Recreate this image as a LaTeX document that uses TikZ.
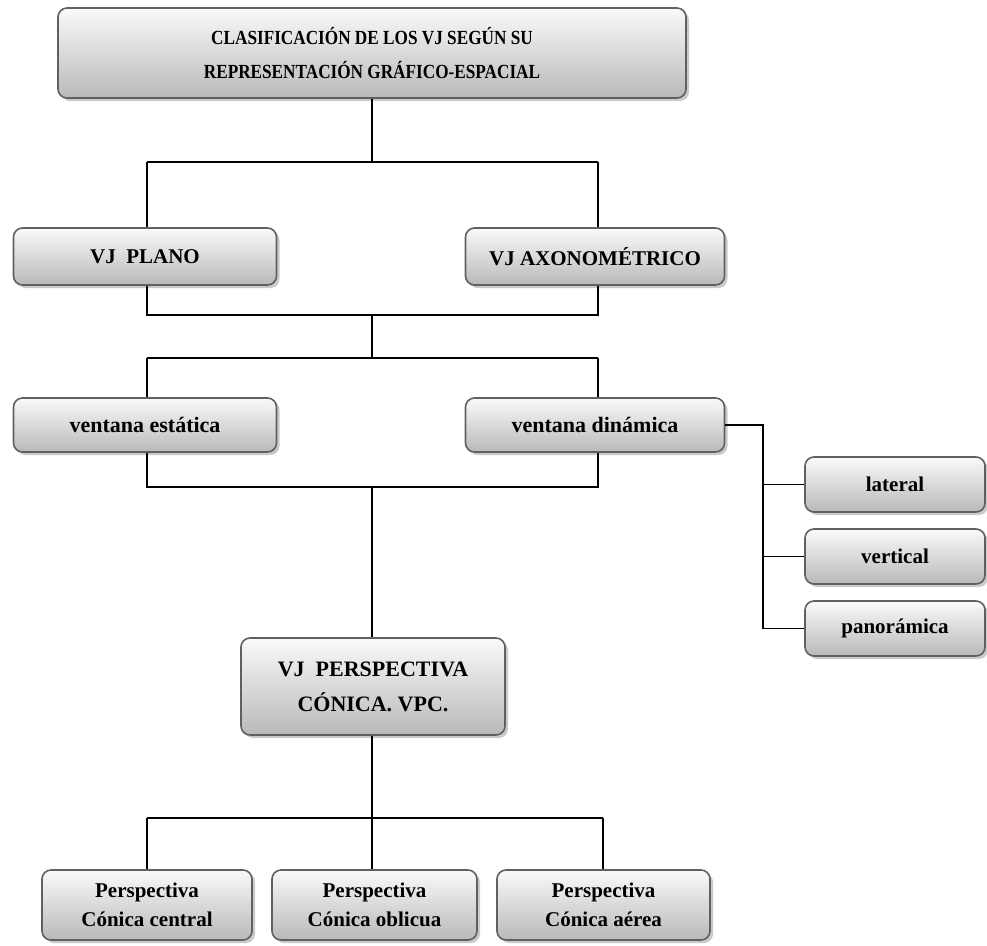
\documentclass[tikz,border=0pt]{standalone}
\usepackage{fontspec}
\setmainfont{Liberation Serif}
\newfontfamily\condfont[FakeStretch=0.86]{Liberation Serif}
\usetikzlibrary{shadows}
\begin{document}
\begin{tikzpicture}[x=1pt,y=-1pt,
  box/.style={draw=gray!75!black, line width=1.6pt, rounded corners=9pt,
    top color=gray!4, bottom color=gray!55, align=center,
    font=\bfseries\fontsize{21}{26}\selectfont, inner sep=2pt,
    drop shadow={shadow xshift=3pt, shadow yshift=-3pt, fill=gray!70, opacity=0.6}},
  conn/.style={draw=black, line width=1.3pt}]
\useasboundingbox (0,0) rectangle (987,945);
% boxes
\node[box, minimum width=628pt, minimum height=90pt, font=\condfont\bfseries\fontsize{20}{34}\selectfont] (top) at (372,53) {CLASIFICACIÓN DE LOS VJ SEGÚN SU\\ REPRESENTACIÓN GRÁFICO-ESPACIAL};
\node[box, minimum width=263pt, minimum height=57pt] (plano) at (145,256.5) {VJ\ \ PLANO};
\node[box, minimum width=259pt, minimum height=57pt] (axo) at (595,256.5) {VJ AXONOMÉTRICO};
\node[box, minimum width=263pt, minimum height=54pt, font=\bfseries\fontsize{22}{26}\selectfont] (est) at (145,425) {ventana estática};
\node[box, minimum width=259pt, minimum height=54pt, font=\bfseries\fontsize{22}{26}\selectfont] (din) at (595,425) {ventana dinámica};
\node[box, minimum width=180pt, minimum height=55pt] (lat) at (895,484.5) {lateral};
\node[box, minimum width=180pt, minimum height=55pt] (ver) at (895,556.5) {vertical};
\node[box, minimum width=180pt, minimum height=55pt] (pan) at (895,628.5) {panorámica};
\node[box, minimum width=264pt, minimum height=97pt, font=\bfseries\fontsize{22}{35}\selectfont] (per) at (373,686.5) {VJ\ \ PERSPECTIVA\\ CÓNICA. VPC.};
\node[box, minimum width=210pt, minimum height=70pt, font=\bfseries\fontsize{21}{29}\selectfont] (cen) at (147,905) {Perspectiva\\ Cónica central};
\node[box, minimum width=205pt, minimum height=70pt, font=\bfseries\fontsize{21}{29}\selectfont] (obl) at (374.5,905) {Perspectiva\\ Cónica oblicua};
\node[box, minimum width=213pt, minimum height=70pt, font=\bfseries\fontsize{21}{29}\selectfont] (aer) at (603.5,905) {Perspectiva\\ Cónica aérea};
% junction coordinates
\coordinate (j1) at (372,162);
\coordinate (j1l) at (147,162);
\coordinate (j1r) at (598,162);
\coordinate (j2l) at (147,315);
\coordinate (j2r) at (598,315);
\coordinate (j2) at (372,315);
\coordinate (j3) at (372,358);
\coordinate (j3l) at (147,358);
\coordinate (j3r) at (598,358);
\coordinate (j4l) at (147,487);
\coordinate (j4r) at (598,487);
\coordinate (j4) at (372,487);
\coordinate (j5) at (372,818);
\coordinate (j5l) at (147,818);
\coordinate (j5r) at (603,818);
\coordinate (r0) at (763,425);
\coordinate (r1) at (763,484.5);
\coordinate (r2) at (763,556.5);
\coordinate (r3) at (763,628.5);
% connectors
\draw[conn] (top.south -| j1) -- (j1);
\draw[conn] (j1l) -- (j1r);
\draw[conn] (j1l) -- (plano.north -| j1l);
\draw[conn] (j1r) -- (axo.north -| j1r);
\draw[conn] (plano.south -| j2l) -- (j2l) -- (j2r) -- (axo.south -| j2r);
\draw[conn] (j2) -- (j3);
\draw[conn] (j3l) -- (j3r);
\draw[conn] (j3l) -- (est.north -| j3l);
\draw[conn] (j3r) -- (din.north -| j3r);
\draw[conn] (est.south -| j4l) -- (j4l) -- (j4r) -- (din.south -| j4r);
\draw[conn] (j4) -- (per.north -| j4);
\draw[conn] (din.east) -- (r0) -- (r3) -- (pan.west);
\draw[conn] (r1) -- (lat.west);
\draw[conn] (r2) -- (ver.west);
\draw[conn] (per.south -| j5) -- (j5);
\draw[conn] (j5l) -- (j5r);
\draw[conn] (j5l) -- (cen.north -| j5l);
\draw[conn] (j5) -- (obl.north -| j5);
\draw[conn] (j5r) -- (aer.north -| j5r);
\end{tikzpicture}
\end{document}
